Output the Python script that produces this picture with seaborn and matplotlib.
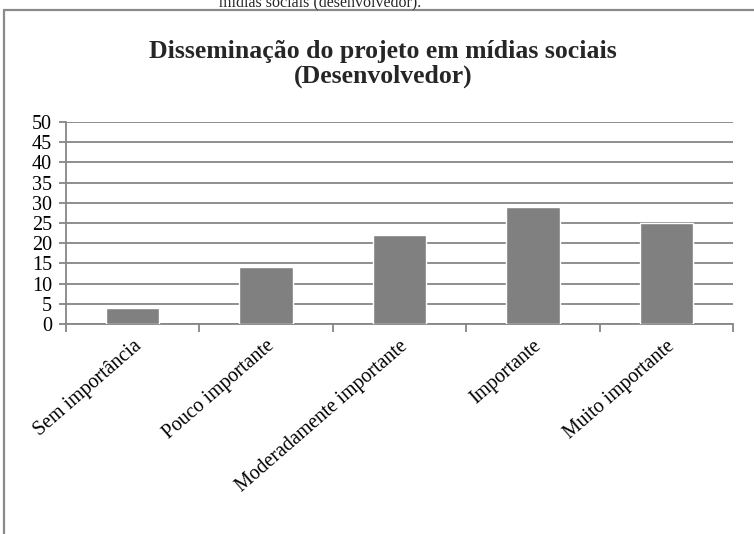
import matplotlib
matplotlib.use("Agg")
import matplotlib.pyplot as plt
from matplotlib.lines import Line2D
import seaborn as sns
import pandas as pd

categories = ["Sem importância", "Pouco importante", "Moderadamente importante",
              "Importante", "Muito importante"]
values = [4, 14, 22, 29, 25]
y_ticks = [0, 5, 10, 15, 20, 25, 30, 35, 40, 45, 50]
title = "Disseminação do projeto em mídias sociais\n(Desenvolvedor)"
caption = "mídias sociais (desenvolvedor)."

sns.set_theme(style="white")
plt.rcParams["font.family"] = ["Liberation Serif", "DejaVu Serif"]

grid_col = "#868686"
df = pd.DataFrame({"categoria": categories, "valor": values})

fig = plt.figure(figsize=(7.54, 5.34), dpi=100)
ax = fig.add_axes([66 / 754, 1 - 324 / 534, (733 - 66) / 754, (324 - 122) / 534])

sns.barplot(data=df, x="categoria", y="valor", color="#808080", saturation=1,
            width=0.4, ax=ax, zorder=3)

ax.set_xlim(-0.5, len(categories) - 0.5)
ax.set_ylim(0, 50)
ax.set_yticks(y_ticks)
ax.set_yticklabels([str(v) for v in y_ticks], fontsize=14.5, color="black")
ax.yaxis.grid(True, color=grid_col, linewidth=1.3, zorder=0)
ax.set_axisbelow(True)
ax.set_xlabel("")
ax.set_ylabel("")

# category labels at bar centres, tick marks on category boundaries
ax.set_xticks(range(len(categories)))
ax.set_xticklabels(categories, rotation=41, ha="right", rotation_mode="anchor",
                   fontsize=14.3, color="black")
ax.set_xticks([i - 0.5 for i in range(len(categories) + 1)], minor=True)
ax.tick_params(axis="x", which="major", length=0, pad=9)
ax.tick_params(axis="x", which="minor", length=6, width=1.3, color=grid_col,
               direction="out", bottom=True)
ax.tick_params(axis="y", which="major", length=5, width=1.3, color=grid_col,
               direction="out", left=True, pad=5)

for side in ("top", "right"):
    ax.spines[side].set_visible(False)
for side in ("left", "bottom"):
    ax.spines[side].set_color(grid_col)
    ax.spines[side].set_linewidth(1.3)

fig.text(383 / 754, 1 - 83 / 534, title, ha="center", va="baseline",
         fontsize=18.5, fontweight="bold", linespacing=1.1)

# surrounding frame (top and left edges)
fig.add_artist(Line2D([4 / 754, 1.0], [1 - 10 / 534, 1 - 10 / 534],
                      transform=fig.transFigure, color="#8a8a8a", linewidth=1.6))
fig.add_artist(Line2D([4 / 754, 4 / 754], [0.0, 1 - 10 / 534],
                      transform=fig.transFigure, color="#8a8a8a", linewidth=1.6))

fig.text(320 / 754, 1 - 6 / 534, caption, ha="center", va="baseline", fontsize=11.5)

fig.savefig("out.png", dpi=100)
